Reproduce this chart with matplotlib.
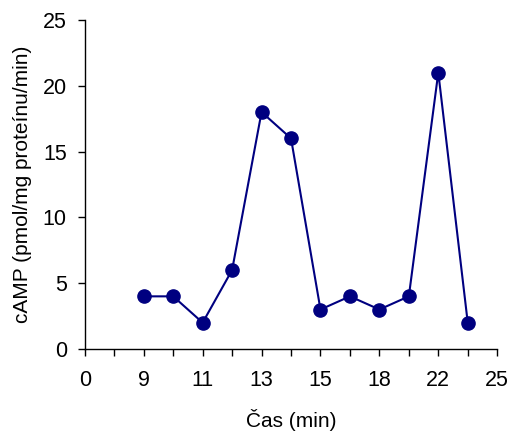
import numpy as np
import matplotlib.pyplot as plt

# Excel-style category axis: 15 tick slots, label on every second slot
tick_labels = ['0', '9', '11', '13', '15', '18', '22', '25']
n_slots = 15

# measurement points sit on slots 2..13
point_slots = [2, 3, 4, 5, 6, 7, 8, 9, 10, 11, 12, 13]
camp = [4, 4, 2, 6, 18, 16, 3, 4, 3, 4, 21, 2]

plt.rcParams['font.family'] = ['Liberation Sans', 'DejaVu Sans']

fig = plt.figure(figsize=(5.11, 4.33), dpi=100)
ax = fig.add_axes([0.166, 0.194, 0.807, 0.760])

ax.plot(point_slots, camp, color='#000080', linewidth=1.5,
        marker='o', markersize=9.5, markerfacecolor='#000080',
        markeredgecolor='#000080')

ax.set_xlim(0, n_slots - 1)
ax.set_ylim(0, 25)
ax.set_xticks(np.arange(0, n_slots, 2))
ax.set_xticklabels(tick_labels)
ax.set_xticks(np.arange(1, n_slots, 2), minor=True)
ax.set_yticks(np.arange(0, 26, 5))

ax.spines['top'].set_visible(False)
ax.spines['right'].set_visible(False)
for s in ['left', 'bottom']:
    ax.spines[s].set_linewidth(1.0)
    ax.spines[s].set_color('black')

ax.tick_params(axis='both', which='both', direction='out', length=5,
               width=1.0, labelsize=15.5, color='black')
ax.tick_params(axis='x', pad=10)
ax.tick_params(axis='y', pad=8)

ax.set_xlabel('Čas (min)', fontsize=15, labelpad=13)
ax.set_ylabel('cAMP (pmol/mg proteínu/min)', fontsize=15, labelpad=8)

fig.savefig('out.png', dpi=100)
